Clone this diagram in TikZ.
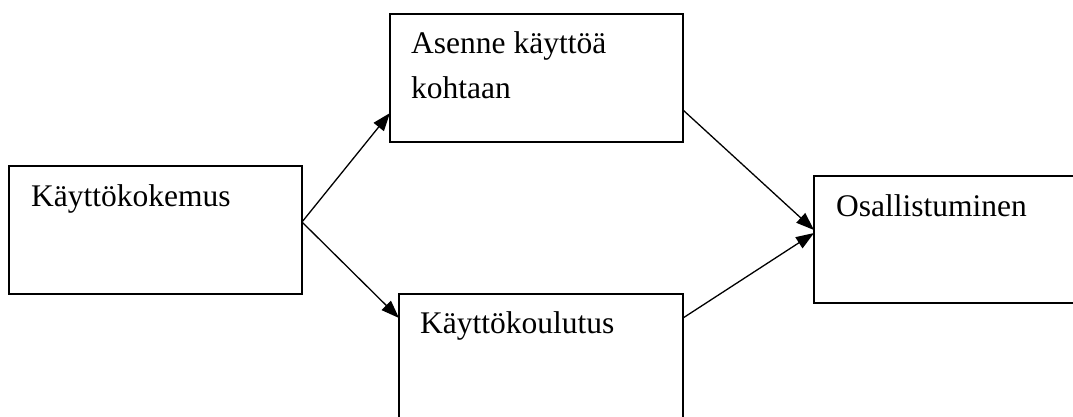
\documentclass[tikz,border=0pt]{standalone}
\usepackage{fontspec}
\setmainfont{Liberation Serif}
\usetikzlibrary{arrows.meta,calc}
\begin{document}
\begin{tikzpicture}[x=1pt,y=-1pt,
  box/.style={draw=black, line width=1.4pt, rectangle, inner sep=0pt, outer sep=0pt, anchor=north west},
  lbl/.style={anchor=base west, inner sep=0pt, font=\fontsize{31.5}{45}\selectfont},
  conn/.style={line width=1.3pt, -{Triangle[length=18pt,width=13pt]}}]
\clip (0,0) rectangle (1073,416);
\fill[white] (0,0) rectangle (1073,416);
\node[box, minimum width=293pt, minimum height=128pt] (k1) at (9,166) {};
\node[box, minimum width=293pt, minimum height=128pt] (k2) at (390,14) {};
\node[box, minimum width=284pt, minimum height=150pt] (k3) at (399,294) {};
\node[box, minimum width=280pt, minimum height=127pt] (k4) at (814,176) {};
\node[lbl] (t1) at (31,206) {Käyttökokemus};
\node[lbl] (t2a) at (411,53) {Asenne käyttöä};
\node[lbl] (t2b) at (411,98) {kohtaan};
\node[lbl] (t3) at (420,333) {Käyttökoulutus};
\node[lbl] (t4) at (836,216) {Osallistuminen};
\coordinate (s1) at ($(k1.north east)+(0,56)$);
\draw[conn] (s1) -- ($(k2.north west)+(0,99)$);
\draw[conn] (s1) -- ($(k3.north west)+(0,24)$);
\draw[conn] ($(k2.north east)+(0,96)$) -- ($(k4.north west)+(0,54)$);
\draw[conn] ($(k3.north east)+(0,24)$) -- ($(k4.north west)+(0,57)$);
\end{tikzpicture}
\end{document}
